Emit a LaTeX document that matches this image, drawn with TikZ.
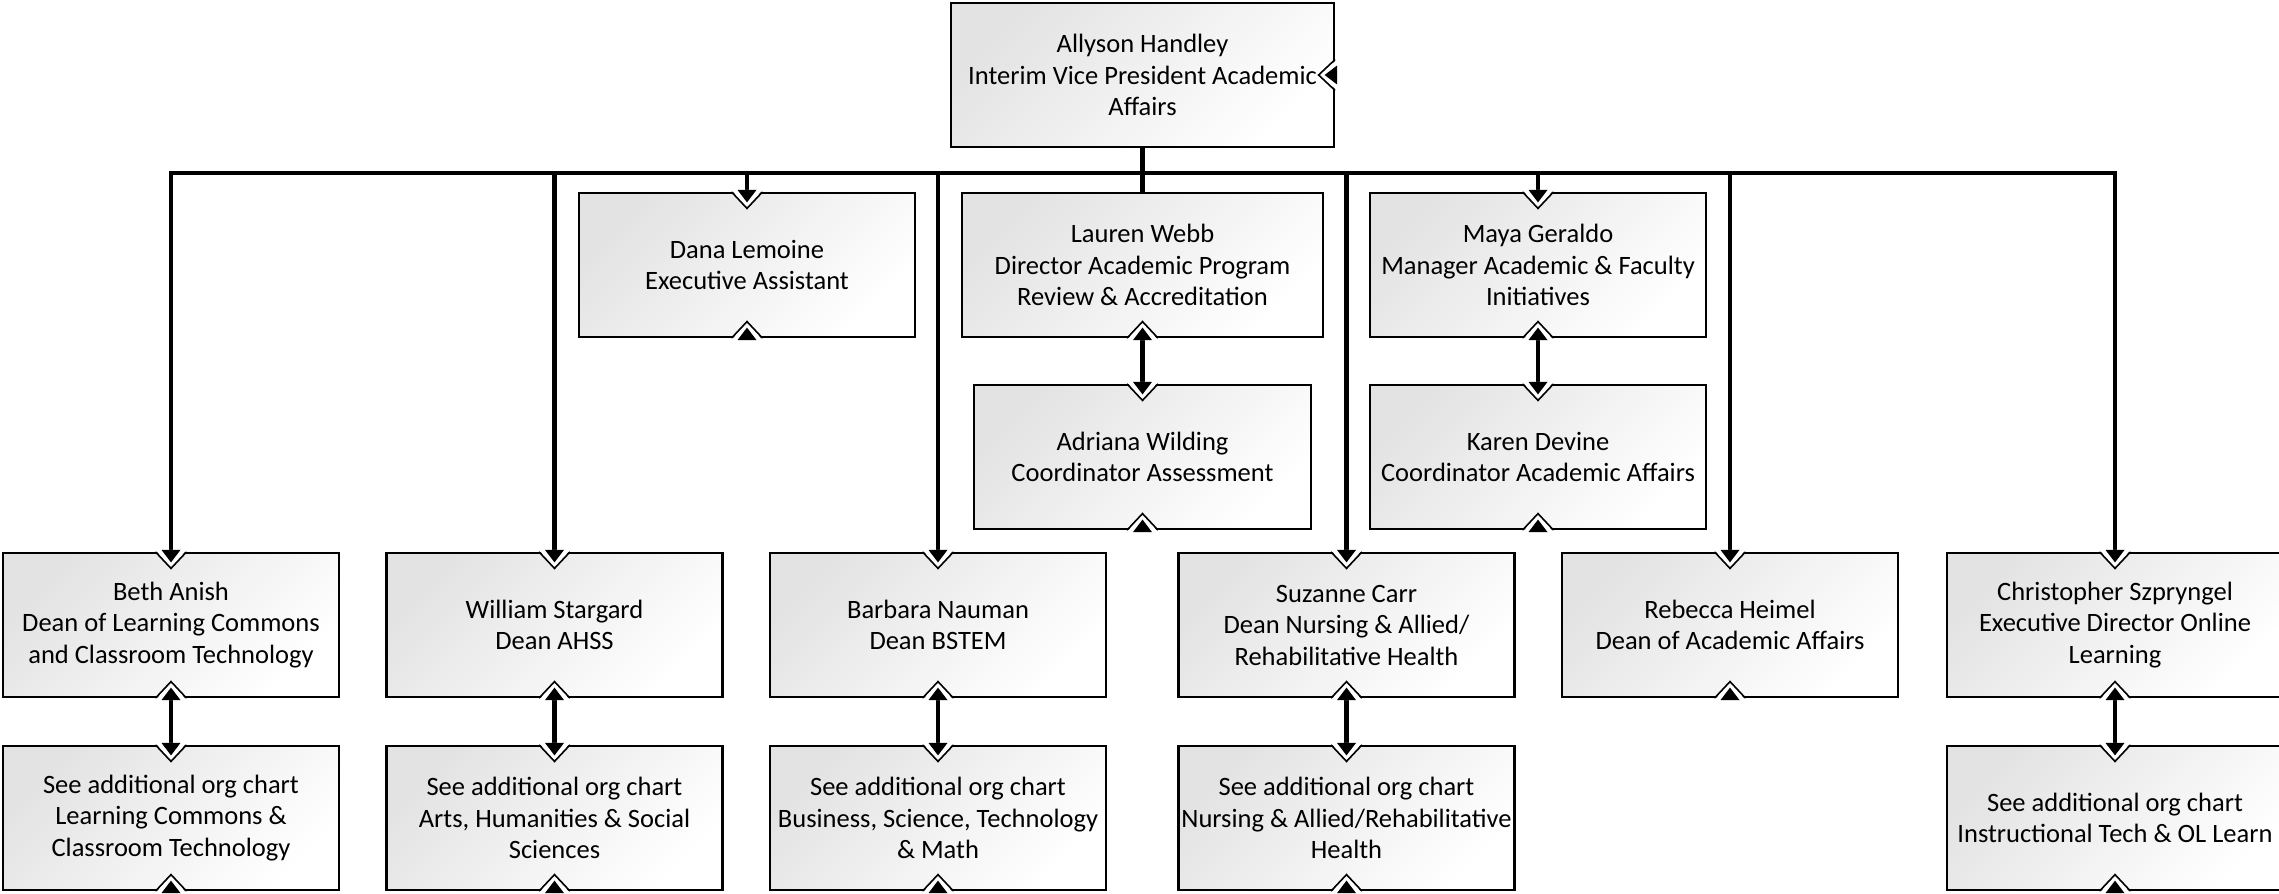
\documentclass[tikz,border=0pt]{standalone}
\usepackage{fontspec}
\setmainfont{Carlito}
\begin{document}
\begin{tikzpicture}[x=1pt,y=-1pt,
  box/.style={draw=black, line width=2.2pt, rectangle, inner sep=0pt,
    minimum width=336pt, minimum height=144pt, align=center,
    top color=black!11, bottom color=white, shading angle=45,
    font=\fontsize{26.5pt}{31.5pt}\selectfont},
  link/.style={line width=4.3pt, line join=miter},
  tipdown/.pic={
    \fill[white] (-15.5pt,2pt) -- (0,-16.5pt) -- (15.5pt,2pt) -- cycle;
    \draw[black, line width=1.6pt, line join=miter] (-15.5pt,0) -- (0,-16.5pt) -- (15.5pt,0);
    \fill[black] (-9.5pt,2pt) -- (0,-10.5pt) -- (9.5pt,2pt) -- cycle;
  }
]
\useasboundingbox (0,0) rectangle (2279,894);

% top of the chart
\node[box, minimum width=383pt] (vp) at (1142.5,75)
  {Allyson Handley\\Interim Vice President Academic\\Affairs};

% staff directly under the vice president
\node[box] (dana) at (747,265) {Dana Lemoine\\Executive Assistant};
\node[box, minimum width=361pt] (lauren) at (1142.5,265)
  {Lauren Webb\\Director Academic Program\\Review \& Accreditation};
\node[box, minimum width=337pt] (adriana) at (1142.5,457)
  {Adriana Wilding\\Coordinator Assessment};
\node[box] (maya) at (1538,265)
  {Maya Geraldo\\Manager Academic \& Faculty\\Initiatives};
\node[box] (karen) at (1538,457)
  {Karen Devine\\Coordinator Academic Affairs};

% deans and directors
\node[box] (beth) at (171,625)
  {Beth Anish\\Dean of Learning Commons\\and Classroom Technology};
\node[box] (william) at (554.5,625) {William Stargard\\Dean AHSS};
\node[box] (barbara) at (938,625) {Barbara Nauman\\Dean BSTEM};
\node[box] (suzanne) at (1346.5,625)
  {Suzanne Carr\\Dean Nursing \& Allied/\\Rehabilitative Health};
\node[box] (rebecca) at (1730,625)
  {Rebecca Heimel\\Dean of Academic Affairs};
\node[box] (chris) at (2115,625)
  {Christopher Szpryngel\\Executive Director Online\\Learning};

% references to the detailed charts
\node[box] (bethsub) at (171,818)
  {See additional org chart\\Learning Commons \&\\Classroom Technology};
\node[box] (williamsub) at (554.5,818)
  {See additional org chart\\Arts, Humanities \& Social\\Sciences};
\node[box] (barbarasub) at (938,818)
  {See additional org chart\\Business, Science, Technology\\\& Math};
\node[box] (suzannesub) at (1346.5,818)
  {See additional org chart\\Nursing \& Allied/Rehabilitative\\Health};
\node[box] (chrissub) at (2115,818)
  {See additional org chart\\Instructional Tech \& OL Learn};

% connectors
\coordinate (bus) at (1142.5,173);
\draw[link] (vp.south) -- (lauren.north);
\draw[link] (beth.north) -- (beth.north |- bus) -- (chris.north |- bus) -- (chris.north);
\foreach \n in {william,barbara,suzanne,rebecca,dana,maya}
  \draw[link] (\n.north |- bus) -- (\n.north);
\draw[link] (lauren.south) -- (adriana.north);
\draw[link] (maya.south) -- (karen.north);
\draw[link] (beth.south) -- (bethsub.north);
\draw[link] (william.south) -- (williamsub.north);
\draw[link] (barbara.south) -- (barbarasub.north);
\draw[link] (suzanne.south) -- (suzannesub.north);
\draw[link] (chris.south) -- (chrissub.north);

% arrow markers on the box edges
\foreach \n in {dana,adriana,maya,karen,beth,william,barbara,suzanne,rebecca,chris,
                bethsub,williamsub,barbarasub,suzannesub,chrissub}
  \pic at (\n.north) {tipdown};
\foreach \n in {dana,lauren,adriana,maya,karen,beth,william,barbara,suzanne,rebecca,chris,
                bethsub,williamsub,barbarasub,suzannesub,chrissub}
  \pic[rotate=180] at (\n.south) {tipdown};
\pic[rotate=-90] at (vp.east) {tipdown};
\end{tikzpicture}
\end{document}
